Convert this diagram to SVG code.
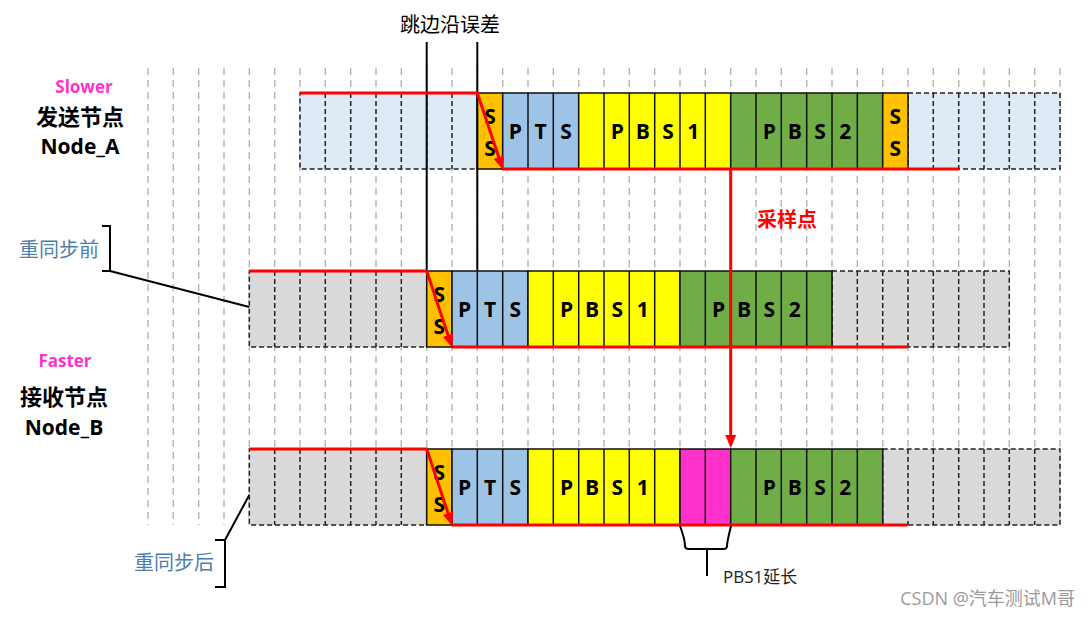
<svg xmlns="http://www.w3.org/2000/svg" width="1090" height="618" viewBox="0 0 1090 618">
<defs>
<style>
.grid{stroke:#b8b8b8;stroke-width:1.5;stroke-dasharray:7 5;fill:none}
.dcell{stroke:#222;stroke-width:1.5;stroke-dasharray:5 3;fill:none}
.solid{stroke:#111;stroke-width:1.5}
.lb{fill:#deebf7}
.gr{fill:#d9d9d9}
.ss{fill:#ffc000}
.pts{fill:#9dc3e6}
.yel{fill:#ffff00}
.grn{fill:#70ad47}
.mag{fill:#ff33cc}
.red{stroke:#ff0000;stroke-width:3;fill:none}
.blk{stroke:#000;stroke-width:2;fill:none}
.t{font-family:"Open Sans","Liberation Sans",sans-serif;font-weight:bold;font-size:21px;text-anchor:middle;fill:#000}
.cn{font-family:"Noto Sans CJK SC",sans-serif}
</style>
<marker id="ah" markerUnits="userSpaceOnUse" markerWidth="14" markerHeight="12" refX="10" refY="5.5" orient="auto">
<path d="M0,0 L13,5.5 L0,11 z" fill="#ff0000"/>
</marker>
</defs>
<rect width="1090" height="618" fill="#fff"/>

<g id="grid">
<path class="grid" d="M148,68V525M173.3,68V525M198.7,68V525M224,68V525M249.3,68V525M274.7,68V525M300,68V525M325.3,68V525M350.7,68V525M376,68V525M401.3,68V525M426.7,68V525M452,68V525M477.3,68V525M502.7,68V525M528,68V525M553.3,68V525M578.7,68V525M604,68V525M629.3,68V525M654.7,68V525M680,68V525M705.3,68V525M730.7,68V525M756,68V525M781.3,68V525M806.7,68V525M832,68V525M857.3,68V525M882.7,68V525M908,68V525M933.3,68V525M958.7,68V525M984,68V525M1009.3,68V525M1034.7,68V525M1060,68V525"/>
</g>

<g id="rowA">
<rect class="lb" x="300" y="93" width="177.3" height="76"/>
<rect class="dcell" x="300" y="93" width="177.3" height="76"/>
<path class="dcell" d="M325.3,93V169M350.7,93V169M376,93V169M401.3,93V169M426.7,93V169M452,93V169"/>
<rect class="lb" x="908" y="93" width="152" height="76"/>
<rect class="dcell" x="908" y="93" width="152" height="76"/>
<path class="dcell" d="M933.3,93V169M958.7,93V169M984,93V169M1009.3,93V169M1034.7,93V169"/>
<rect class="ss solid" x="477.3" y="93" width="25.4" height="76"/>
<rect class="pts solid" x="502.7" y="93" width="76" height="76"/>
<rect class="yel solid" x="578.7" y="93" width="152" height="76"/>
<rect class="grn solid" x="730.7" y="93" width="152" height="76"/>
<rect class="ss solid" x="882.7" y="93" width="25.3" height="76"/>
<path class="solid" d="M528,93V169M553.3,93V169M604,93V169M629.3,93V169M654.7,93V169M680,93V169M705.3,93V169M756,93V169M781.3,93V169M806.7,93V169M832,93V169M857.3,93V169"/>
<text class="t" x="490" y="124">S</text><text class="t" x="490" y="156">S</text>
<text class="t" x="515.3" y="139">P</text><text class="t" x="540.7" y="139">T</text><text class="t" x="566" y="139">S</text>
<text class="t" x="617.3" y="139">P</text><text class="t" x="642.7" y="139">B</text><text class="t" x="668" y="139">S</text><text class="t" x="693.3" y="139">1</text>
<text class="t" x="769.3" y="139">P</text><text class="t" x="794.7" y="139">B</text><text class="t" x="820" y="139">S</text><text class="t" x="845.3" y="139">2</text>
<text class="t" x="895.3" y="124">S</text><text class="t" x="895.3" y="156">S</text>
</g>

<g id="rowB">
<rect class="gr" x="249.3" y="271" width="177.4" height="76"/>
<rect class="dcell" x="249.3" y="271" width="177.4" height="76"/>
<path class="dcell" d="M274.7,271V347M300,271V347M325.3,271V347M350.7,271V347M376,271V347M401.3,271V347"/>
<rect class="gr" x="832" y="271" width="177.3" height="76"/>
<rect class="dcell" x="832" y="271" width="177.3" height="76"/>
<path class="dcell" d="M857.3,271V347M882.7,271V347M908,271V347M933.3,271V347M958.7,271V347M984,271V347"/>
<rect class="ss solid" x="426.7" y="271" width="25.3" height="76"/>
<rect class="pts solid" x="452" y="271" width="76" height="76"/>
<rect class="yel solid" x="528" y="271" width="152" height="76"/>
<rect class="grn solid" x="680" y="271" width="152" height="76"/>
<path class="solid" d="M477.3,271V347M502.7,271V347M553.3,271V347M578.7,271V347M604,271V347M629.3,271V347M654.7,271V347M705.3,271V347M730.7,271V347M756,271V347M781.3,271V347M806.7,271V347"/>
<text class="t" x="439.3" y="302">S</text><text class="t" x="439.3" y="334">S</text>
<text class="t" x="464.7" y="317">P</text><text class="t" x="490" y="317">T</text><text class="t" x="515.3" y="317">S</text>
<text class="t" x="566.7" y="317">P</text><text class="t" x="592" y="317">B</text><text class="t" x="617.3" y="317">S</text><text class="t" x="642.7" y="317">1</text>
<text class="t" x="718.7" y="317">P</text><text class="t" x="744" y="317">B</text><text class="t" x="769.3" y="317">S</text><text class="t" x="794.7" y="317">2</text>
</g>

<g id="rowC">
<rect class="gr" x="249.3" y="449" width="177.4" height="76"/>
<rect class="dcell" x="249.3" y="449" width="177.4" height="76"/>
<path class="dcell" d="M274.7,449V525M300,449V525M325.3,449V525M350.7,449V525M376,449V525M401.3,449V525"/>
<rect class="gr" x="882.7" y="449" width="177.3" height="76"/>
<rect class="dcell" x="882.7" y="449" width="177.3" height="76"/>
<path class="dcell" d="M908,449V525M933.3,449V525M958.7,449V525M984,449V525M1009.3,449V525M1034.7,449V525"/>
<rect class="ss solid" x="426.7" y="449" width="25.3" height="76"/>
<rect class="pts solid" x="452" y="449" width="76" height="76"/>
<rect class="yel solid" x="528" y="449" width="152" height="76"/>
<rect class="mag solid" x="680" y="449" width="50.7" height="76"/>
<rect class="grn solid" x="730.7" y="449" width="152" height="76"/>
<path class="solid" d="M477.3,449V525M502.7,449V525M553.3,449V525M578.7,449V525M604,449V525M629.3,449V525M654.7,449V525M705.3,449V525M756,449V525M781.3,449V525M806.7,449V525M832,449V525M857.3,449V525"/>
<text class="t" x="439.3" y="480">S</text><text class="t" x="439.3" y="512">S</text>
<text class="t" x="464.7" y="495">P</text><text class="t" x="490" y="495">T</text><text class="t" x="515.3" y="495">S</text>
<text class="t" x="566.7" y="495">P</text><text class="t" x="592" y="495">B</text><text class="t" x="617.3" y="495">S</text><text class="t" x="642.7" y="495">1</text>
<text class="t" x="769.3" y="495">P</text><text class="t" x="794.7" y="495">B</text><text class="t" x="820" y="495">S</text><text class="t" x="845.3" y="495">2</text>
</g>

<g id="connectors">
<path class="blk" d="M426.7,42V271M477.3,42V271"/>
<polyline class="red" points="300,93 477.3,93 501.9,166.6" marker-end="url(#ah)"/>
<path class="red" d="M502.7,169H958.7"/>
<polyline class="red" points="249.3,271 426.7,271 451.2,344.6" marker-end="url(#ah)"/>
<path class="red" d="M452,347H908"/>
<polyline class="red" points="249.3,449 426.7,449 451.2,522.6" marker-end="url(#ah)"/>
<path class="red" d="M452,525H908"/>
<path class="red" d="M730.7,169V445" marker-end="url(#ah)"/>
<path class="blk" d="M102,226H110V271H102M110,271L249.3,307"/>
<path class="blk" d="M215,540H225V587H215M225,540L249.3,495"/>
<path class="blk" d="M680,526C683,534 685,542 685,546Q685,549 689,549H723Q727,549 727,546C727,542 729,534 731,526M707,549V576"/>
</g>

<g id="labels">
<text x="84" y="93" font-family="Open Sans,Liberation Sans,sans-serif" font-weight="bold" font-size="17" fill="#ff33cc" text-anchor="middle">Slower</text>
<text class="cn" x="80" y="125" font-weight="bold" font-size="22" fill="#000" text-anchor="middle">发送节点</text>
<text x="80" y="154" font-family="Open Sans,Liberation Sans,sans-serif" font-weight="bold" font-size="21" fill="#000" text-anchor="middle">Node_A</text>
<text x="65" y="367" font-family="Open Sans,Liberation Sans,sans-serif" font-weight="bold" font-size="17" fill="#ff33cc" text-anchor="middle">Faster</text>
<text class="cn" x="64" y="405" font-weight="bold" font-size="22" fill="#000" text-anchor="middle">接收节点</text>
<text x="64" y="435" font-family="Open Sans,Liberation Sans,sans-serif" font-weight="bold" font-size="21" fill="#000" text-anchor="middle">Node_B</text>
<text class="cn" x="59" y="257" font-size="20" fill="#4e7fab" text-anchor="middle">重同步前</text>
<text class="cn" x="174" y="570" font-size="20" fill="#4e7fab" text-anchor="middle">重同步后</text>
<text class="cn" x="450" y="32" font-size="20" fill="#000" text-anchor="middle">跳边沿误差</text>
<text class="cn" x="787" y="227" font-weight="bold" font-size="20" fill="#ff0000" text-anchor="middle">采样点</text>
<text x="723" y="583" font-family="Open Sans,Liberation Sans,'Noto Sans CJK SC',sans-serif" font-size="17" fill="#222">PBS1<tspan font-family="Noto Sans CJK SC,sans-serif">延长</tspan></text>
<text x="1075" y="605" font-family="Open Sans,Liberation Sans,'Noto Sans CJK SC',sans-serif" font-size="18" fill="#9a9a9a" text-anchor="end">CSDN @汽车测试M哥</text>
</g>
</svg>
